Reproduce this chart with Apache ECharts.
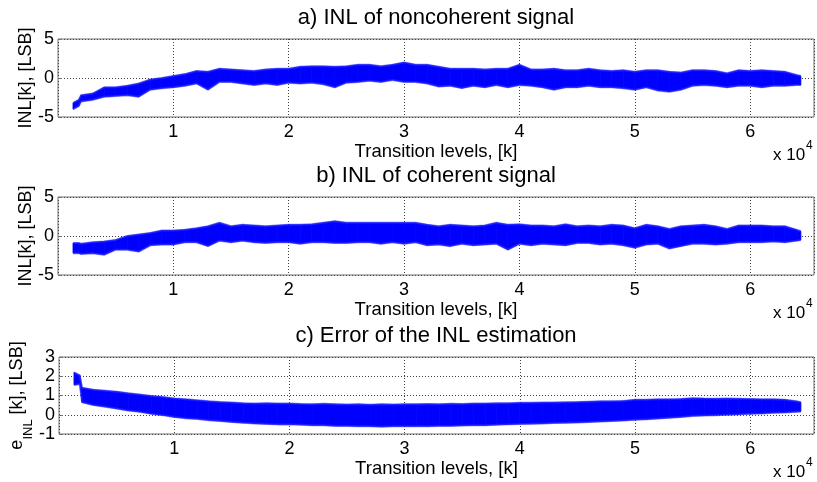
<!DOCTYPE html>
<html>
<head>
<meta charset="utf-8">
<script src="https://cdn.jsdelivr.net/npm/echarts@6/dist/echarts.min.js"></script>
<style>html,body{margin:0;padding:0;background:#fff;}#chart{width:817px;height:482px;}</style>
</head>
<body>
<div id="chart"></div>
<script>
// Transition levels (k) at which the band envelope was read
var levels = [1300, 1800, 2000, 3000, 4000, 5000, 6000, 7000, 8000, 9000, 10000,
  11000, 12000, 13000, 14000, 15000, 16000, 17000, 18000, 19000, 20000,
  21000, 22000, 23000, 24000, 25000, 26000, 27000, 28000, 29000, 30000,
  31000, 32000, 33000, 34000, 35000, 36000, 37000, 38000, 39000, 40000,
  41000, 42000, 43000, 44000, 45000, 46000, 47000, 48000, 49000, 50000,
  51000, 52000, 53000, 54000, 55000, 56000, 57000, 58000, 59000, 60000,
  61000, 62000, 63000, 64000, 64400];

// a) INL of noncoherent signal: upper / lower envelope
var inlNoncohUpper = [-3.2, -2.8, -2.2, -2.0, -1.2, -1.2, -1.0, -0.7, -0.2, 0.0, 0.25,
  0.5, 0.9, 0.8, 1.2, 1.1, 1.0, 0.9, 1.1, 1.2, 1.2,
  1.45, 1.5, 1.5, 1.45, 1.5, 1.7, 1.7, 1.5, 1.7, 2.0,
  1.7, 1.7, 1.45, 1.2, 1.2, 1.2, 1.1, 1.2, 1.2, 1.7,
  1.1, 1.1, 1.2, 1.0, 1.0, 1.2, 1.0, 0.9, 1.0, 0.8,
  1.0, 1.0, 0.8, 0.7, 1.0, 1.0, 0.9, 0.6, 1.0, 0.9,
  1.0, 0.9, 0.8, 0.4, 0.25];
var inlNoncohLower = [-4.0, -3.6, -3.0, -2.8, -2.4, -2.3, -2.2, -2.4, -1.5, -1.3, -1.2,
  -1.0, -0.7, -1.5, -0.5, -0.5, -0.7, -0.9, -0.7, -0.9, -0.6,
  -0.7, -0.6, -0.8, -1.2, -0.6, -0.5, -0.35, -0.5, -0.25, -0.5,
  -0.5, -0.7, -1.1, -1.0, -1.3, -1.0, -1.2, -0.9, -1.2, -0.9,
  -1.0, -1.2, -1.5, -1.2, -1.2, -1.0, -1.2, -1.2, -1.3, -1.5,
  -1.2, -1.6, -1.75, -1.5, -1.0, -0.9, -1.0, -1.2, -1.0, -1.0,
  -1.2, -1.0, -1.0, -0.9, -0.9];

// b) INL of coherent signal: upper / lower envelope
var inlCohUpper = [-0.9, -0.9, -1.0, -0.8, -0.7, -0.5, 0.0, 0.2, 0.4, 0.7, 0.7,
  0.8, 1.0, 1.25, 1.7, 1.25, 1.45, 1.35, 1.25, 1.35, 1.45,
  1.45, 1.5, 1.7, 1.9, 1.7, 1.7, 1.7, 1.7, 1.7, 1.7,
  1.7, 1.45, 1.25, 1.45, 1.35, 1.25, 1.35, 1.7, 1.45, 1.5,
  1.35, 1.35, 1.25, 1.5, 1.25, 1.35, 1.25, 1.45, 1.35, 1.0,
  1.45, 1.25, 0.9, 1.25, 1.35, 1.45, 1.25, 0.9, 1.35, 1.35,
  1.35, 1.25, 1.25, 0.8, 0.6];
var inlCohLower = [-2.2, -2.2, -2.3, -2.2, -2.4, -1.75, -1.75, -2.0, -1.2, -1.1, -1.1,
  -0.8, -0.8, -1.3, -0.6, -0.8, -0.6, -0.8, -0.9, -0.8, -0.8,
  -1.0, -0.8, -0.8, -0.9, -0.9, -0.8, -0.8, -1.0, -0.8, -1.0,
  -0.8, -1.2, -1.1, -1.3, -1.0, -1.2, -1.1, -1.0, -1.75, -1.0,
  -1.2, -1.0, -1.1, -1.2, -0.9, -0.9, -1.1, -1.0, -1.2, -1.5,
  -1.1, -1.0, -1.6, -1.3, -1.0, -1.0, -1.1, -1.0, -0.8, -0.8,
  -0.8, -0.7, -0.8, -0.6, -0.5];

// c) Error of the INL estimation: upper / lower envelope
var errUpper = [2.2, 2.05, 1.4, 1.3, 1.25, 1.2, 1.12, 1.05, 0.98, 0.92, 0.85,
  0.8, 0.75, 0.7, 0.66, 0.63, 0.6, 0.58, 0.6, 0.58, 0.58,
  0.56, 0.55, 0.57, 0.55, 0.53, 0.55, 0.52, 0.55, 0.53, 0.55,
  0.55, 0.56, 0.55, 0.57, 0.56, 0.58, 0.58, 0.6, 0.6, 0.62,
  0.62, 0.63, 0.64, 0.65, 0.66, 0.68, 0.7, 0.7, 0.72, 0.78,
  0.78, 0.8, 0.8, 0.82, 0.86, 0.84, 0.83, 0.84, 0.83, 0.82,
  0.8, 0.8, 0.78, 0.7, 0.65];
var errLower = [1.55, 1.6, 0.65, 0.5, 0.42, 0.32, 0.22, 0.15, 0.05, -0.02, -0.12,
  -0.18, -0.22, -0.28, -0.33, -0.38, -0.42, -0.45, -0.48, -0.5, -0.5,
  -0.52, -0.55, -0.55, -0.58, -0.58, -0.6, -0.6, -0.62, -0.6, -0.6,
  -0.6, -0.6, -0.58, -0.58, -0.56, -0.55, -0.55, -0.52, -0.5, -0.48,
  -0.47, -0.45, -0.43, -0.42, -0.4, -0.38, -0.35, -0.33, -0.3, -0.26,
  -0.24, -0.2, -0.16, -0.12, -0.06, -0.04, -0.02, 0.0, 0.02, 0.05,
  0.07, 0.1, 0.12, 0.15, 0.17];

var titles = ['a) INL of noncoherent signal', 'b) INL of coherent signal', 'c) Error of the INL estimation'];
var xName = 'Transition levels, [k]';
var yNames = ['INL[k], [LSB]', 'INL[k], [LSB]', '{e|e}{s|INL}{m| [k], [LSB]}'];

var FONT = 'Liberation Sans, Arial, sans-serif';
var BLUE = '#0000ff';
var grids = [
  {left: 58, top: 39, width: 756, height: 78},
  {left: 58, top: 197, width: 756, height: 78},
  {left: 58, top: 357, width: 756, height: 77}
];
var yRanges = [{min: -5, max: 5, interval: 5}, {min: -5, max: 5, interval: 5}, {min: -1, max: 3, interval: 1}];
var bands = [[inlNoncohUpper, inlNoncohLower], [inlCohUpper, inlCohLower], [errUpper, errLower]];

var option = {
  backgroundColor: '#fff',
  animation: false,
  title: [], grid: [], xAxis: [], yAxis: [], series: [], graphic: []
};

function bandRender(params, api) {
  var p1 = api.coord([api.value(0), api.value(1)]);
  var p2 = api.coord([api.value(3), api.value(4)]);
  var p3 = api.coord([api.value(3), api.value(5)]);
  var p4 = api.coord([api.value(0), api.value(2)]);
  return {
    type: 'polygon',
    shape: {points: [p1, p2, p3, p4]},
    style: {fill: BLUE, stroke: BLUE, lineWidth: 0.8}
  };
}

for (var i = 0; i < 3; i++) {
  var g = grids[i];
  option.grid.push({left: g.left, top: g.top, width: g.width, height: g.height,
    show: true, borderColor: '#707070', borderWidth: 1, backgroundColor: '#fff', containLabel: false});
  option.title.push({
    text: titles[i], left: g.left + g.width / 2, textAlign: 'center', top: g.top - 32, padding: 0,
    textStyle: {fontFamily: FONT, fontSize: 22, fontWeight: 'normal', color: '#000'}
  });
  option.xAxis.push({
    type: 'value', gridIndex: i, min: 0, max: 65536, interval: 10000,
    name: xName, nameLocation: 'middle', nameGap: 25, nameMoveOverlap: false,
    nameTextStyle: {fontFamily: FONT, fontSize: 18.5, color: '#000'},
    axisLine: {show: false},
    axisTick: {show: true, inside: true, length: 4, lineStyle: {color: '#707070'}},
    axisLabel: {fontFamily: FONT, fontSize: 18, color: '#000', margin: 6,
      showMinLabel: false, showMaxLabel: false,
      formatter: function (v) { return v === 0 ? '' : String(v / 10000); }},
    splitLine: {show: true, lineStyle: {type: [1, 2], color: '#404040', width: 1}}
  });
  var yr = yRanges[i];
  var yAx = {
    type: 'value', gridIndex: i, min: yr.min, max: yr.max, interval: yr.interval,
    name: yNames[i], nameLocation: 'middle', nameGap: 23, nameMoveOverlap: false,
    nameTextStyle: {fontFamily: FONT, fontSize: 18, color: '#000'},
    axisLine: {show: false},
    axisTick: {show: true, inside: true, length: 4, lineStyle: {color: '#707070'}},
    axisLabel: {fontFamily: FONT, fontSize: 18, color: '#000', margin: 4},
    splitLine: {show: true, lineStyle: {type: [1, 2], color: '#404040', width: 1}}
  };
  if (i === 2) {
    yAx.nameGap = 24;
    yAx.nameTextStyle = {
      fontFamily: FONT, fontSize: 18, color: '#000',
      rich: {
        e: {fontFamily: FONT, fontSize: 18, color: '#000', lineHeight: 36},
        s: {fontFamily: FONT, fontSize: 13, color: '#000', lineHeight: 13, verticalAlign: 'bottom'},
        m: {fontFamily: FONT, fontSize: 18, color: '#000', lineHeight: 36}
      }
    };
  }
  option.yAxis.push(yAx);

  var up = bands[i][0], lo = bands[i][1];
  var segData = [], upData = [], loData = [];
  for (var k = 0; k < levels.length; k++) {
    upData.push([levels[k], up[k]]);
    loData.push([levels[k], lo[k]]);
    if (k < levels.length - 1) {
      segData.push([levels[k], up[k], lo[k], levels[k + 1], up[k + 1], lo[k + 1]]);
    }
  }
  option.series.push({
    type: 'custom', xAxisIndex: i, yAxisIndex: i, silent: true,
    renderItem: bandRender, data: segData,
    encode: {x: [0, 3], y: [1, 2, 4, 5]}, clip: true
  });
  option.series.push({
    type: 'line', xAxisIndex: i, yAxisIndex: i, data: upData, showSymbol: false, symbol: 'none', silent: true,
    lineStyle: {color: 'rgba(40,40,255,0.6)', width: 2}
  });
  option.series.push({
    type: 'line', xAxisIndex: i, yAxisIndex: i, data: loData, showSymbol: false, symbol: 'none', silent: true,
    lineStyle: {color: 'rgba(40,40,255,0.6)', width: 2}
  });

  var base = g.top + g.height + 38;
  option.graphic.push({type: 'text', silent: true,
    style: {text: 'x 10', x: 773, y: base, fontFamily: FONT, fontSize: 17, fill: '#000', verticalAlign: 'middle', align: 'left'}});
  option.graphic.push({type: 'text', silent: true,
    style: {text: '4', x: 806, y: base - 9, fontFamily: FONT, fontSize: 12, fill: '#000', verticalAlign: 'middle', align: 'left'}});
}

var chart = echarts.init(document.getElementById('chart'), null, {renderer: 'canvas'});
chart.setOption(option);
</script>
</body>
</html>
